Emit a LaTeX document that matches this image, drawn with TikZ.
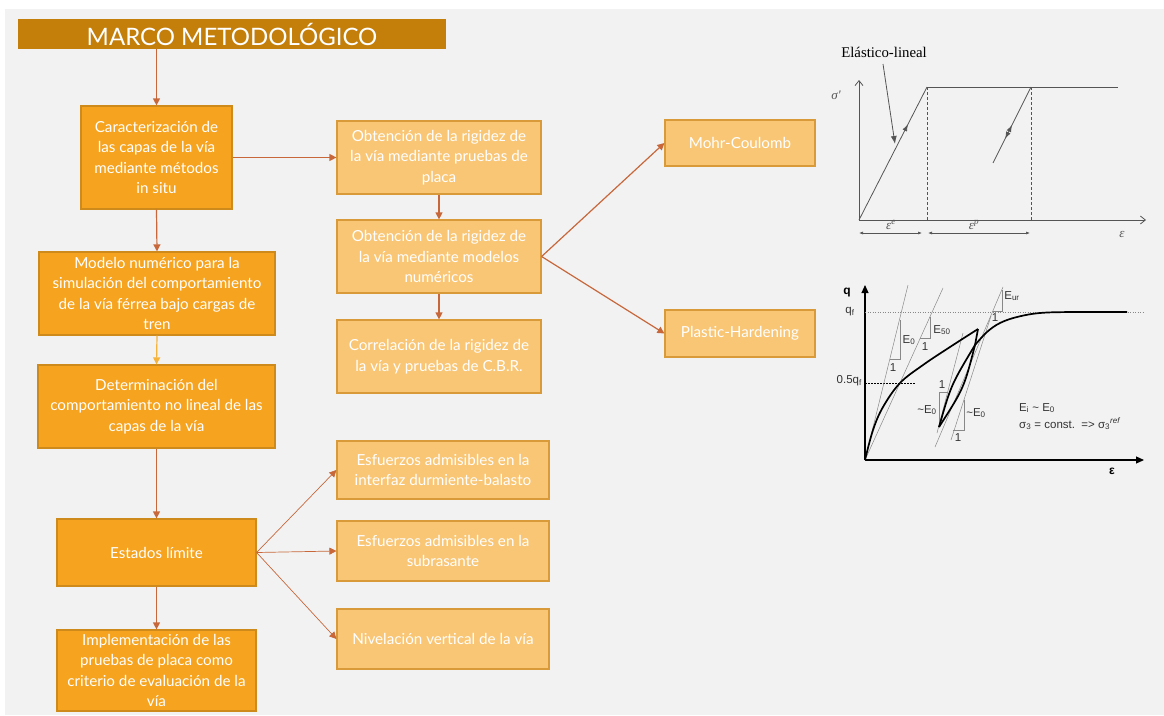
\documentclass[tikz,border=0pt]{standalone}
\usepackage{fontspec}
\setmainfont{Lato}
\newfontfamily\arialf{Liberation Sans}
\newfontfamily\timesf{Liberation Serif}
\usetikzlibrary{arrows.meta,decorations.markings}
\definecolor{bgray}{HTML}{F2F2F2}
\definecolor{titlec}{HTML}{C47E0A}
\definecolor{darkfill}{HTML}{F6A31F}
\definecolor{darkbord}{HTML}{CF8A1C}
\definecolor{lightfill}{HTML}{F9C676}
\definecolor{lightbord}{HTML}{D99A3A}
\definecolor{arrc}{HTML}{C8683A}
\definecolor{arry}{HTML}{F6B33B}
\definecolor{chartc}{HTML}{555555}
\definecolor{thinc}{HTML}{888888}
\definecolor{labc}{HTML}{333333}
\tikzset{
  boxbase/.style={rectangle, inner sep=0pt, line width=1.2pt, text=white, align=center,
    font=\fontsize{15.2}{20.5}\selectfont},
  darkbox/.style={boxbase, fill=darkfill, draw=darkbord},
  lightbox/.style={boxbase, fill=lightfill, draw=lightbord},
  arr/.style={draw=arrc, line width=1.2pt, -{Triangle[length=7pt,width=7pt]}},
  thinarr/.style={draw=arrc, line width=0.7pt, -{Triangle[length=7pt,width=7pt]}},
  chartline/.style={draw=chartc, line width=0.8pt},
  thin/.style={draw=thinc, line width=0.5pt},
  thick/.style={draw=black, line width=1.7pt},
  lab/.style={font=\arialf\fontsize{11.5}{13}\selectfont, text=labc, inner sep=0pt},
  clab/.style={text=chartc, font=\timesf\itshape\fontsize{13}{14}\selectfont, inner sep=0pt},
}
\begin{document}
\begin{tikzpicture}[x=1pt,y=-1pt]
\useasboundingbox (0,0) rectangle (1164,715);
\fill[white] (0,0) rectangle (1164,715);
\fill[bgray] (5,9) rectangle (1164,715);

% title
\node[rectangle, fill=titlec, inner sep=0pt, minimum width=428pt, minimum height=30pt,
  text=white, font=\fontsize{24}{26}\selectfont] (title) at (232,34) {MARCO METODOLÓGICO};

% left column
\node[darkbox, minimum width=151pt, minimum height=103pt] (b1) at (156.5,157.5)
  {Caracterización de\\las capas de la vía\\mediante métodos\\in situ};
\node[darkbox, minimum width=236pt, minimum height=83pt] (b2) at (157,293.5)
  {Modelo numérico para la\\simulación del comportamiento\\de la vía férrea bajo cargas de\\tren};
\node[darkbox, minimum width=237pt, minimum height=83pt] (b3) at (156.5,406.5)
  {Determinación del\\comportamiento no lineal de las\\capas de la vía};
\node[darkbox, minimum width=199pt, minimum height=67pt] (b4) at (156.5,552.5)
  {Estados límite};
\node[darkbox, minimum width=199pt, minimum height=81pt] (b5) at (156.5,670.5)
  {Implementación de las\\pruebas de placa como\\criterio de evaluación de la\\vía};

% middle column
\node[lightbox, minimum width=204pt, minimum height=73pt] (m1) at (439,157.5)
  {Obtención de la rigidez de\\la vía mediante pruebas de\\placa};
\node[lightbox, minimum width=204pt, minimum height=73pt] (m2) at (439,256.5)
  {Obtención de la rigidez de\\la vía mediante modelos\\numéricos};
\node[lightbox, minimum width=204pt, minimum height=73pt] (m3) at (439,356.5)
  {Correlación de la rigidez de\\la vía y pruebas de C.B.R.};
\node[lightbox, minimum width=212pt, minimum height=58pt] (e1) at (443,470)
  {Esfuerzos admisibles en la\\interfaz durmiente-balasto};
\node[lightbox, minimum width=212pt, minimum height=60pt] (e2) at (443,551)
  {Esfuerzos admisibles en la\\subrasante};
\node[lightbox, minimum width=212pt, minimum height=60pt] (e3) at (443,639)
  {Nivelación vertical de la vía};

% right column
\node[lightbox, minimum width=150pt, minimum height=46pt] (mc) at (740,143) {Mohr-Coulomb};
\node[lightbox, minimum width=150pt, minimum height=47pt] (ph) at (740,333.5) {Plastic-Hardening};

% connectors
\draw[arr] (title.south -| b1.north) -- (b1.north);
\draw[arr] (b1.south) -- (b2.north);
\draw[draw=arry, line width=1.2pt, -{Triangle[length=7pt,width=7pt]}] (b2.south) -- (b3.north);
\draw[arr] (b3.south) -- (b4.north);
\draw[arr] (b4.south) -- (b5.north);
\draw[arr] (b1.east) -- (m1.west);
\draw[arr] (m1.south) -- (m2.north);
\draw[arr] (m2.south) -- (m3.north);
\draw[arr] (m2.east) -- (mc.west);
\draw[arr] (m2.east) -- (ph.west);
\draw[thinarr] (b4.east) -- (e1.west);
\draw[thinarr] (b4.east) -- (e2.west);
\draw[thinarr] (b4.east) -- (e3.west);

% ===== chart 1: elastic-perfectly plastic =====
\coordinate (o1) at (859,220);
\coordinate (y1) at (859,80);
\coordinate (x1) at (1146,220);
\coordinate (yp) at (927,87);
\coordinate (ye) at (1118,87);
\coordinate (up) at (1031,87);
\coordinate (ue) at (993,163);
\draw[chartline, -{Straight Barb[length=5pt,width=8pt]}] (o1) -- (y1);
\draw[chartline, -{Straight Barb[length=5pt,width=8pt]}] (o1) -- (x1);
\draw[chartline, postaction={decorate}, decoration={markings,
   mark=at position 0.72 with {\arrow{Latex[length=7pt,width=5pt]}}}] (o1) -- (yp);
\draw[chartline] (yp) -- (ye);
\draw[chartline, postaction={decorate}, decoration={markings,
   mark=at position 0.5 with {\arrowreversed{Latex[length=7pt,width=5pt]}},
   mark=at position 0.68 with {\arrow{Latex[length=7pt,width=5pt]}}}] (up) -- (ue);
\draw[chartline, line width=0.5pt, dash pattern=on 3pt off 2pt] (yp) -- (yp |- o1);
\draw[chartline, line width=0.5pt, dash pattern=on 3pt off 2pt] (up) -- (up |- o1);
\node[font=\timesf\fontsize{14.8}{16}\selectfont, inner sep=0pt] (el) at (884,52) {Elástico-lineal};
\coordinate (elt) at (895,144);
\draw[chartline, -{Latex[length=8pt,width=6pt]}] (883,64) -- (elt);
\coordinate (d1a) at (859,233);
\coordinate (d1b) at (922,233);
\coordinate (d2a) at (928,233);
\coordinate (d2b) at (1030,233);
\draw[chartline, line width=0.6pt, {Latex[length=4pt,width=3pt]}-{Latex[length=4pt,width=3pt]}] (d1a) -- (d1b);
\draw[chartline, line width=0.6pt, {Latex[length=4pt,width=3pt]}-{Latex[length=4pt,width=3pt]}] (d2a) -- (d2b);
\node[clab] (sg) at (836,95) {σ'};
\node[clab] (ee) at (891,225) {ε\textsuperscript{e}};
\node[clab] (ep) at (974,225) {ε\textsuperscript{p}};
\node[clab] (ex) at (1122,234) {ε};

% ===== chart 2: hardening soil =====
\coordinate (o2) at (865,460);
\coordinate (y2) at (865,285);
\coordinate (x2) at (1144,460);
\draw[draw=black, line width=1.1pt, -{Triangle[length=8pt,width=7pt]}] (o2) -- (y2);
\draw[draw=black, line width=1.1pt, -{Triangle[length=8pt,width=7pt]}] (o2) -- (x2);
\draw[thin, dash pattern=on 1pt off 1.5pt] (865,312) -- (1145,312);
\draw[draw=black, line width=0.5pt, dash pattern=on 2pt off 1pt] (865,383) -- (915,383);
\node[font=\arialf\bfseries\fontsize{12}{13}\selectfont, inner sep=0pt] (ql) at (847,293) {q};
\node[font=\arialf\bfseries\fontsize{12}{13}\selectfont, inner sep=0pt] (el2) at (1112,471) {ε};
\node[lab] (qf) at (850,312) {q\textsubscript{f}};
\node[lab, anchor=east] (hqf) at (862,381) {0.5q\textsubscript{f}};

% thin lines
\draw[thin] (o2) -- (908,285);
\draw[thin] (o2) -- (943,288);
\draw[thin] (935,447) -- (1003,287);
\draw[thin] (937,433) -- (963,333);
\draw[thin] (951,440) -- (991,316);
% triangles
\draw[thin] (900,320) -- (900,359) -- (890,359);
\draw[thin] (930,317) -- (930,338) -- (920,338);
\draw[thin] (1002,290) -- (1002,311) -- (993,311);
\draw[thin] (948,392) -- (939,392) -- (939,427);
\draw[thin] (964,400) -- (964,430) -- (953,430);

% thick curves
\draw[thick, line join=round] plot[smooth, tension=0.6] coordinates
  {(865,460) (873,430) (883,407) (900,383) (923,365) (950,347) (978,329)};
\draw[thick, line join=round] (978,329) -- (975,345);
\draw[thick] (939,427) .. controls (951,385) .. (975,345);
\draw[thick] (939,427) .. controls (964,388) .. (975,345);
\draw[thick, line join=round] plot[smooth, tension=0.6] coordinates
  {(975,345) (987,332) (1000,323) (1017,317) (1040,313) (1073,312) (1127,312)};

% labels
\node[lab] (le0) at (909,340) {E\textsubscript{0}};
\node[lab] (l1a) at (893,368) {1};
\node[lab] (le50) at (942,330) {E\textsubscript{50}};
\node[lab] (l1b) at (925,347) {1};
\node[lab] (leur) at (1012,296) {E\textsubscript{ur}};
\node[lab] (l1c) at (995,318) {1};
\node[lab] (l1d) at (942,385) {1};
\node[lab] (le0l) at (927,410) {\textasciitilde E\textsubscript{0}};
\node[lab] (le0r) at (976,413) {\textasciitilde E\textsubscript{0}};
\node[lab] (l1e) at (958,438) {1};
\node[lab, anchor=west] (lei) at (1019,408) {E\textsubscript{i} \textasciitilde\ E\textsubscript{0}};
\node[lab, anchor=west] (lsig) at (1019,424) {σ\textsubscript{3} = const.\ \ => σ\textsubscript{3}\textsuperscript{\itshape ref}};
\end{tikzpicture}
\end{document}
